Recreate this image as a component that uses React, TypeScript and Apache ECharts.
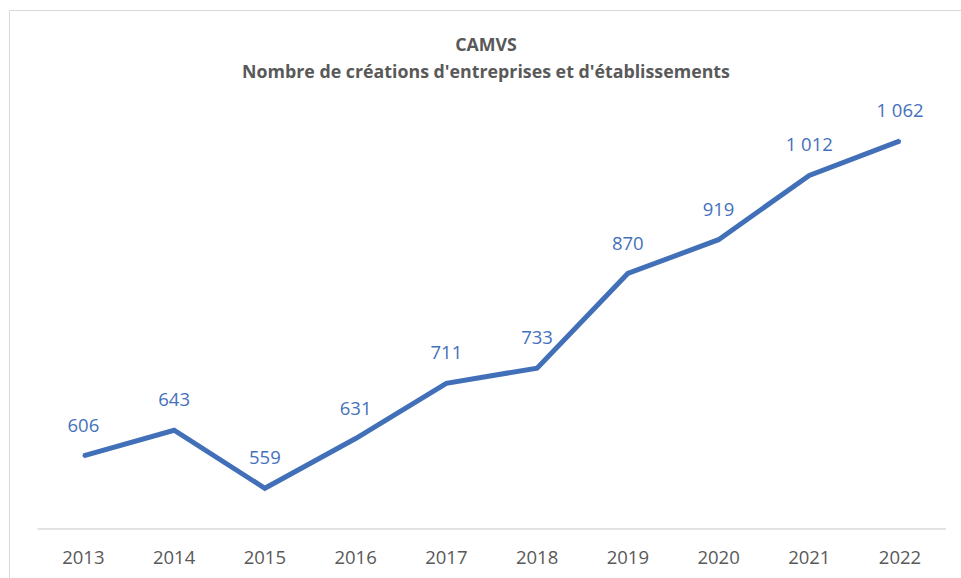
import React, { useEffect, useRef } from "react";
import * as echarts from "echarts";

const years = ["2013", "2014", "2015", "2016", "2017", "2018", "2019", "2020", "2021", "2022"];
const creations = [606, 643, 559, 631, 711, 733, 870, 919, 1012, 1062];
const titleLines = ["CAMVS", "Nombre de créations d'entreprises et d'établissements"];

const BLUE = "#4270B8";
const LABEL_BLUE = "#4571BC";
const GRAY = "#595959";
const FONT = "'Open Sans', 'Noto Sans', sans-serif";

function fmt(v: number): string {
  return String(v).replace(/\B(?=(\d{3})+(?!\d))/g, " ");
}

export default function App() {
  const ref = useRef<HTMLDivElement>(null);
  useEffect(() => {
    document.body.style.margin = "0";
    if (!ref.current) return;
    const chart = echarts.init(ref.current, null, { renderer: "svg" });
    chart.setOption({
      animation: false,
      backgroundColor: "#ffffff",
      graphic: [
        {
          type: "rect",
          shape: { x: 9.5, y: 10.5, width: 1000, height: 1000 },
          style: { fill: "none", stroke: "#d9d9d9", lineWidth: 1 },
          silent: true,
        },
        {
          type: "text",
          x: 486,
          y: 44,
          style: {
            text: titleLines[0],
            font: `bold 17.8px ${FONT}`,
            fill: GRAY,
            textAlign: "center",
            textVerticalAlign: "middle",
          },
        },
        {
          type: "text",
          x: 486,
          y: 71,
          style: {
            text: titleLines[1],
            font: `bold 17.8px ${FONT}`,
            fill: GRAY,
            textAlign: "center",
            textVerticalAlign: "middle",
          },
        },
      ],
      grid: { left: 38, right: 15.6, top: 114.7, bottom: 49, containLabel: false },
      xAxis: {
        type: "category",
        data: years,
        boundaryGap: true,
        axisTick: { show: false },
        axisLine: { lineStyle: { color: "#d9d9d9", width: 1.5 } },
        axisLabel: {
          color: GRAY,
          fontFamily: FONT,
          fontSize: 18.5,
          lineHeight: 20,
          margin: 17,
        },
      },
      yAxis: {
        type: "value",
        min: 500,
        max: 1100,
        show: false,
        splitLine: { show: false },
      },
      series: [
        {
          type: "line",
          data: creations,
          symbol: "circle",
          symbolSize: 2,
          showSymbol: true,
          lineStyle: { color: BLUE, width: 5, join: "miter" },
          itemStyle: { color: BLUE },
          label: {
            show: true,
            position: "top",
            distance: 21,
            color: LABEL_BLUE,
            fontFamily: FONT,
            fontSize: 18.5,
            formatter: (p: any) => fmt(p.value),
          },
        },
      ],
    });
    return () => chart.dispose();
  }, []);
  return <div ref={ref} style={{ width: 961, height: 578 }} />;
}
